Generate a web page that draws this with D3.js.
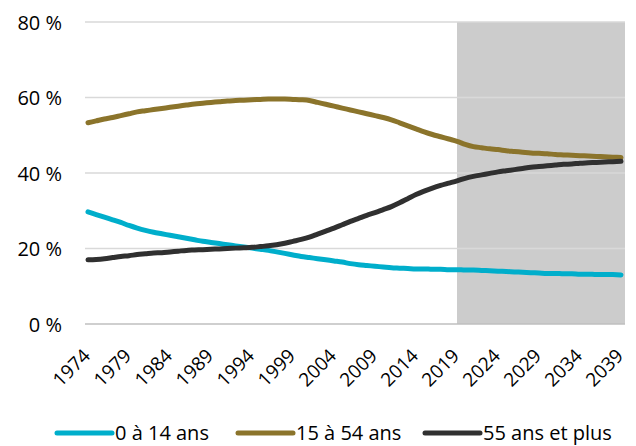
<!DOCTYPE html>
<html><head><meta charset="utf-8">
<script src="https://cdn.jsdelivr.net/npm/d3@7"></script>
<style>body{margin:0;background:#fff}svg{display:block}text{font-family:"Open Sans",sans-serif;fill:#000}</style>
</head><body><svg id="c" width="636" height="446"></svg>
<script>
const startYear = 1974, endYear = 2039, projectionStart = 2019;
const years = d3.range(startYear, endYear + 1);
const tickYears = d3.range(1974, 2040, 5);
const yTicks = [0, 20, 40, 60, 80];
const seriesNames = ["0 à 14 ans", "15 à 54 ans", "55 ans et plus"];
const seriesColors = ["#00aecb", "#8b742b", "#303030"];
const age0_14 = [29.7,29.0,28.3,27.6,26.9,26.1,25.4,24.8,24.3,23.9,23.5,23.1,22.7,22.3,21.9,21.6,21.3,21.0,20.7,20.4,20.1,19.8,19.5,19.1,18.7,18.3,17.9,17.6,17.3,17.0,16.7,16.4,16.0,15.7,15.5,15.3,15.1,14.9,14.8,14.7,14.6,14.6,14.5,14.5,14.4,14.4,14.3,14.3,14.2,14.1,14.0,13.9,13.8,13.7,13.6,13.5,13.4,13.4,13.3,13.3,13.2,13.2,13.1,13.1,13.1,13.0];
const age15_54 = [53.3,53.8,54.3,54.7,55.2,55.7,56.2,56.5,56.8,57.1,57.4,57.7,58.0,58.3,58.5,58.7,58.9,59.1,59.2,59.3,59.4,59.5,59.6,59.6,59.6,59.5,59.4,59.2,58.7,58.2,57.7,57.2,56.7,56.2,55.7,55.2,54.7,54.1,53.3,52.5,51.7,50.9,50.2,49.6,49.0,48.4,47.6,47.0,46.7,46.4,46.2,45.9,45.7,45.5,45.3,45.2,45.1,44.9,44.8,44.7,44.6,44.5,44.4,44.3,44.2,44.1];
const age55plus = [17.0,17.1,17.3,17.6,17.9,18.1,18.4,18.6,18.8,18.9,19.1,19.3,19.5,19.6,19.7,19.8,19.9,20.0,20.1,20.2,20.3,20.5,20.7,21.0,21.4,21.9,22.4,23.0,23.8,24.6,25.4,26.3,27.2,28.0,28.8,29.5,30.3,31.1,32.1,33.2,34.3,35.2,36.0,36.7,37.3,37.9,38.6,39.1,39.5,39.9,40.3,40.6,40.9,41.2,41.5,41.7,41.9,42.1,42.3,42.4,42.6,42.7,42.8,42.9,43.0,43.1];
const allSeries = [age0_14, age15_54, age55plus];

const svg = d3.select("#c");
const plotL = 85, plotR = 625, plotT = 22, plotB = 324;
const x = d3.scaleLinear().domain([startYear, endYear]).range([88, 621]);
const y = d3.scaleLinear().domain([0, 80]).range([plotB, plotT]);

// projection shading
svg.append("rect").attr("x", x(projectionStart)).attr("y", plotT)
  .attr("width", plotR - x(projectionStart)).attr("height", plotB - plotT).attr("fill", "#cccccc");

// gridlines
svg.append("g").selectAll("line").data(yTicks.filter(d => d > 0)).join("line")
  .attr("x1", plotL).attr("x2", plotR).attr("y1", d => y(d)).attr("y2", d => y(d))
  .attr("stroke", "#d9d9d9").attr("stroke-width", 1.3);
svg.append("line").attr("x1", plotL).attr("x2", plotR).attr("y1", y(0)).attr("y2", y(0))
  .attr("stroke", "#bfbfbf").attr("stroke-width", 1.5);

// y axis labels
const yAxis = d3.axisLeft(y).tickValues(yTicks).tickSize(0).tickPadding(0).tickFormat(d => d + " %");
const gy = svg.append("g").attr("transform", "translate(62,0)").call(yAxis);
gy.select(".domain").remove();
gy.selectAll("text").style("font-size", "20px").attr("font-family", null).attr("dy", "0.36em");

// x axis labels
const xAxis = d3.axisBottom(x).tickValues(tickYears).tickSize(0).tickPadding(0).tickFormat(d3.format("d"));
const gx = svg.append("g").attr("transform", `translate(0,${plotB})`).call(xAxis);
gx.select(".domain").remove();
gx.selectAll("text").style("font-size", "19px").attr("font-family", null)
  .attr("text-anchor", "end").attr("dy", null)
  .attr("transform", "translate(3,33) rotate(-45)");

// lines
const line = d3.line().x((d, i) => x(years[i])).y(d => y(d)).curve(d3.curveMonotoneX);
allSeries.forEach((s, k) => {
  svg.append("path").datum(s).attr("d", line).attr("fill", "none")
    .attr("stroke", seriesColors[k]).attr("stroke-width", 5).attr("stroke-linecap", "round").attr("stroke-linejoin", "round");
});

// legend
const legendX = [57, 238, 425];
const lg = svg.append("g");
seriesNames.forEach((n, k) => {
  lg.append("line").attr("x1", legendX[k]).attr("x2", legendX[k] + 55).attr("y1", 433).attr("y2", 433)
    .attr("stroke", seriesColors[k]).attr("stroke-width", 5).attr("stroke-linecap", "round");
  lg.append("text").attr("x", legendX[k] + 58).attr("y", 433).attr("dy", "0.36em").style("font-size", "20px").text(n);
});
</script></body></html>
